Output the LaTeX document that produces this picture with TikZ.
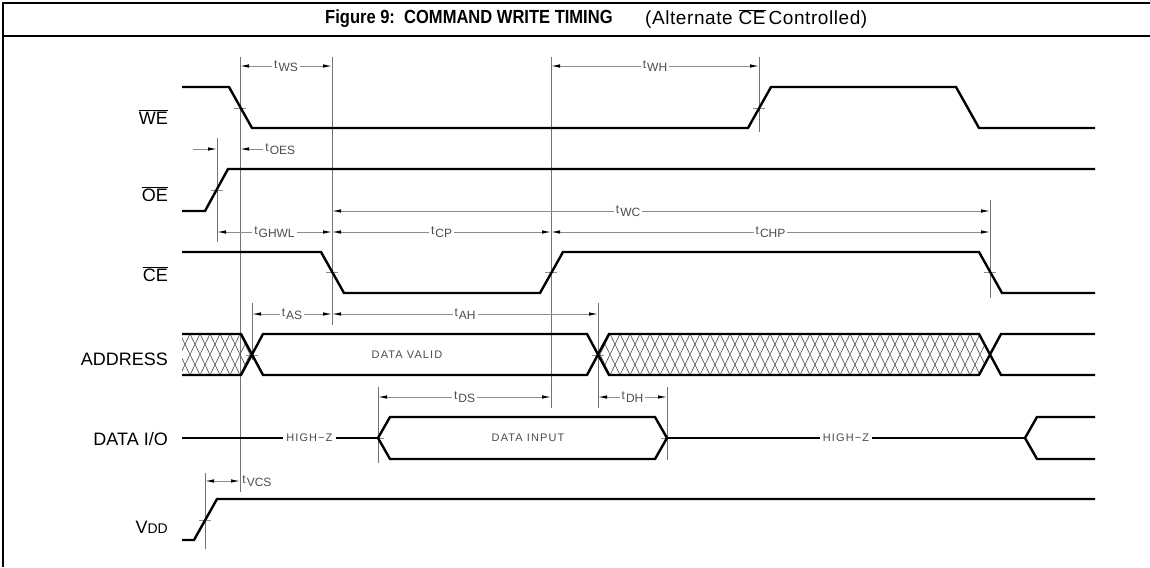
\documentclass[tikz,border=0pt]{standalone}
\usepackage{fontspec}
\setmainfont{Liberation Sans}
\usetikzlibrary{arrows.meta}
\newcommand\ovl[1]{$\overline{\mbox{#1}}$}
\newcommand\tdly[1]{t\kern1pt\raisebox{-3.5pt}{#1}}
\tikzset{
	sig/.style={line width=2.4pt},
	hiz/.style={line width=1.4pt},
	guide/.style={black!55, line width=0.9pt},
	crossmark/.style={black!45, line width=0.8pt},
	dim/.style={black!45, line width=0.9pt, >={Latex[color=black,length=9pt,width=3.5pt]}},
	dimlbl/.style={fill=white, inner sep=2pt, text=black!70, font=\fontsize{12}{12}\selectfont},
	buslbl/.style={text=black!70, font=\fontsize{11}{11}\selectfont\addfontfeature{LetterSpace=10}},
	siglbl/.style={anchor=east, inner sep=0pt, font=\fontsize{18}{18}\selectfont},
}
\begin{document}
\begin{tikzpicture}[x=1pt,y=-1pt]
	\useasboundingbox (0,0) rectangle (1150,567);
	\draw[line width=1.6pt] (3,567) -- (3,3) -- (1150,3);
	\draw[line width=2.8pt] (3,36) -- (1150,36);
	\node[anchor=west, inner sep=0pt, font=\bfseries\fontsize{19}{19}\selectfont\addfontfeature{FakeStretch=0.87}] (title) at (325,19) {Figure 9:\ \ COMMAND WRITE TIMING};
	\node[anchor=west, inner sep=0pt, font=\fontsize{19}{19}\selectfont\addfontfeature{LetterSpace=3}] (subtitle) at (645,19) {(Alternate \ovl{CE}\,Controlled)};
	% signal names
	\node[siglbl] (we) at (168,117) {\ovl{WE}};
	\node[siglbl] (oe) at (168,194) {\ovl{OE}};
	\node[siglbl] (ce) at (168,274) {\ovl{CE}};
	\node[siglbl] (addr) at (168,359) {ADDRESS};
	\node[siglbl] (dio) at (168,439) {DATA I/O};
	\node[siglbl] (vdd) at (168,527) {V{\fontsize{14}{14}\selectfont DD}};
	% guide lines
	\draw[guide] (240,57) -- (240,492);
	\draw[guide] (332,57) -- (332,325);
	\draw[guide] (551,57) -- (551,408);
	\draw[guide] (759,57) -- (759,132);
	\draw[guide] (217,138) -- (217,242);
	\draw[guide] (990,200) -- (990,298);
	\draw[guide] (598,303) -- (598,408);
	\draw[guide] (252,303) -- (252,360);
	\draw[guide] (378,387) -- (378,463);
	\draw[guide] (667,387) -- (667,460);
	\draw[guide] (205,473) -- (205,549);
	\foreach \x/\y in {240/108,759/108,217/190,332/272,551/272,990/272,252/355,598/355,378/438,667/438,205/520}
		\draw[crossmark] (\x-6,\y) -- (\x+6,\y);
	% hatching
	\begin{scope}
		\clip (182,334) -- (241,334) -- (252,354.5) -- (241,375) -- (182,375) -- cycle
			(598,354.5) -- (609,334) -- (979,334) -- (990,354.5) -- (979,375) -- (609,375) -- cycle;
		\foreach \x in {160,170,...,1010}
			\draw[black!70, line width=0.6pt] (\x,334) -- (\x+20,375) (\x+20,334) -- (\x,375);
	\end{scope}
	% waveforms
	\draw[sig] (182,87) -- (229,87) -- (252,128) -- (748,128) -- (771,87) -- (956,87) -- (979,128) -- (1095,128);
	\draw[sig] (182,211) -- (205,211) -- (228,169) -- (1095,169);
	\draw[sig] (182,252) -- (321,252) -- (344,293) -- (540,293) -- (563,252) -- (979,252) -- (1002,293) -- (1095,293);
	\draw[sig] (182,334) -- (241,334) -- (263,375) -- (587,375) -- (609,334) -- (979,334) -- (1001,375) -- (1095,375);
	\draw[sig] (182,375) -- (241,375) -- (263,334) -- (587,334) -- (609,375) -- (979,375) -- (1001,334) -- (1095,334);
	\node[buslbl] (valid) at (407,355) {DATA VALID};
	\draw[hiz] (182,438) -- node[buslbl, fill=white, pos=0.65] (hz1) {HIGH−Z} (378,438);
	\draw[sig] (378,438) -- (390,417) -- (655,417) -- (667,438) -- (655,459) -- (390,459) -- cycle;
	\node[buslbl] (input) at (528,438) {DATA INPUT};
	\draw[hiz] (667,438) -- node[buslbl, fill=white, pos=0.5] (hz2) {HIGH−Z} (1025,438);
	\draw[sig] (1095,417) -- (1037,417) -- (1025,438) -- (1037,459) -- (1095,459);
	\draw[sig] (182,540) -- (194,540) -- (217,499) -- (1095,499);
	% timing parameters
	\draw[dim, <->] (240,66) -- node[dimlbl] (tws) {\tdly{WS}} (332,66);
	\draw[dim, <->] (551,66) -- node[dimlbl] (twh) {\tdly{WH}} (759,66);
	\draw[dim, ->] (193,149) -- (217,149);
	\draw[dim, <-] (240,149) -- (263,149) node[dimlbl, anchor=west, fill=none] (toes) {\tdly{OES}};
	\draw[dim, <->] (332,211) -- node[dimlbl, pos=0.45] (twc) {\tdly{WC}} (990,211);
	\draw[dim, <->] (217,232) -- node[dimlbl] (tghwl) {\tdly{GHWL}} (332,232);
	\draw[dim, <->] (332,232) -- node[dimlbl] (tcp) {\tdly{CP}} (551,232);
	\draw[dim, <->] (551,232) -- node[dimlbl] (tchp) {\tdly{CHP}} (990,232);
	\draw[dim, <->] (252,314) -- node[dimlbl] (tas) {\tdly{AS}} (332,314);
	\draw[dim, <->] (332,314) -- node[dimlbl] (tah) {\tdly{AH}} (598,314);
	\draw[dim, <->] (378,397) -- node[dimlbl] (tds) {\tdly{DS}} (551,397);
	\draw[dim, <->] (598,397) -- node[dimlbl] (tdh) {\tdly{DH}} (667,397);
	\draw[dim, <->] (205,481) -- (240,481) node[dimlbl, anchor=west, fill=none] (tvcs) {\tdly{VCS}};
\end{tikzpicture}
\end{document}
